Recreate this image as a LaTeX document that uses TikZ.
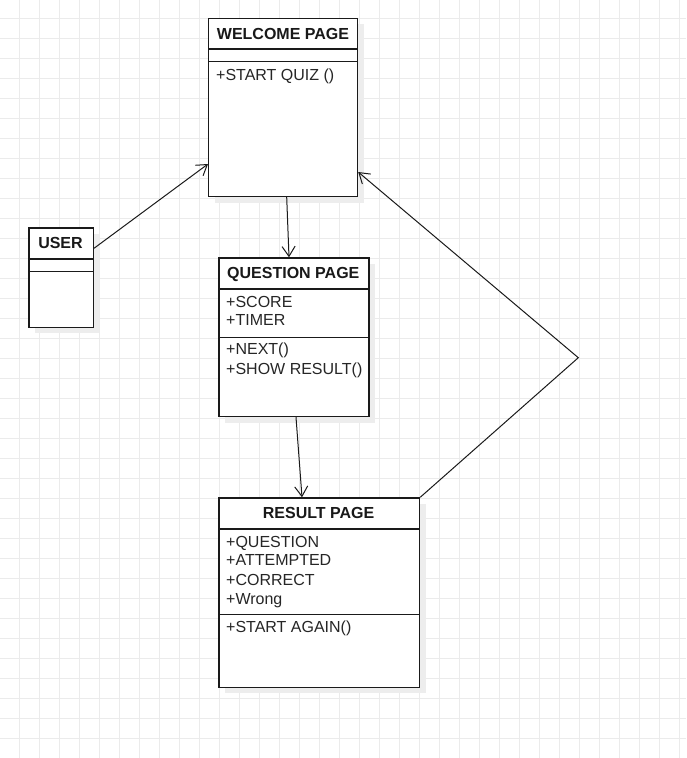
\documentclass[tikz,border=0pt]{standalone}
\usepackage{fontspec}
\setmainfont{Liberation Sans}
\usetikzlibrary{arrows.meta,calc,shadows}
\definecolor{gridc}{HTML}{EBEBEB}
\definecolor{linec}{HTML}{1A1A1A}
\definecolor{shadc}{HTML}{EDEDED}
\tikzset{
  umlbox/.style={draw=linec, line width=1.2pt, fill=white, rectangle, anchor=north west, inner sep=0pt,
    drop shadow={shadow xshift=6pt, shadow yshift=-6pt, fill=shadc, opacity=1}},
  sep/.style={draw=linec, line width=1.2pt},
  ttl/.style={font=\fontsize{16}{19}\selectfont\bfseries, anchor=base, inner sep=0pt, text=black!90},
  attr/.style={font=\fontsize{16}{19}\selectfont, anchor=base west, inner sep=0pt, text=black!85},
  arr/.style={draw=linec, line width=1pt, -{Straight Barb[length=10pt,width=13pt,line width=1pt]}},
  conn/.style={draw=linec, line width=1pt}
}
\begin{document}
\begin{tikzpicture}[x=1pt,y=-1pt]
\useasboundingbox (0,0) rectangle (686,758);
\fill[white] (0,0) rectangle (686,758);
% grid
\foreach \gx in {19,39,...,679} \draw[gridc, line width=0.7pt] (\gx,0) -- (\gx,758);
\foreach \gy in {18,38,...,738} \draw[gridc, line width=0.7pt] (0,\gy) -- (686,\gy);

% WELCOME PAGE
\node[umlbox, minimum width=149pt, minimum height=178.5pt] (welcome) at (208,17.5) {};
\draw[sep] ($(welcome.north west)+(0,31.5)$) -- ($(welcome.north east)+(0,31.5)$);
\draw[sep] ($(welcome.north west)+(0,44)$) -- ($(welcome.north east)+(0,44)$);
\node[ttl] (welcomet) at (283,39) {WELCOME PAGE};
\node[attr] (welcomem1) at (216,80) {+START QUIZ ()};

% USER
\node[umlbox, minimum width=64.5pt, minimum height=99.5pt] (user) at (28.3,227.3) {};
\draw[sep] ($(user.north west)+(0,31.7)$) -- ($(user.north east)+(0,31.7)$);
\draw[sep] ($(user.north west)+(0,44.4)$) -- ($(user.north east)+(0,44.4)$);
\node[ttl] (usert) at (60.5,248.7) {USER};

% QUESTION PAGE
\node[umlbox, minimum width=150pt, minimum height=158.7pt] (question) at (218.3,257.3) {};
\draw[sep] ($(question.north west)+(0,31.7)$) -- ($(question.north east)+(0,31.7)$);
\draw[sep] ($(question.north west)+(0,80)$) -- ($(question.north east)+(0,80)$);
\node[ttl] (questiont) at (293.3,278.7) {QUESTION PAGE};
\node[attr] (questiona1) at (226,307.4) {+SCORE};
\node[attr] (questiona2) at (226,325.7) {+TIMER};
\node[attr] (questionm1) at (226,354.7) {+NEXT()};
\node[attr] (questionm2) at (226,374) {+SHOW RESULT()};

% RESULT PAGE
\node[umlbox, minimum width=200.7pt, minimum height=189.4pt] (result) at (218.3,497.3) {};
\draw[sep] ($(result.north west)+(0,31.7)$) -- ($(result.north east)+(0,31.7)$);
\draw[sep] ($(result.north west)+(0,117)$) -- ($(result.north east)+(0,117)$);
\node[ttl] (resultt) at (318.6,518.7) {RESULT PAGE};
\node[attr] (resulta1) at (226,547.4) {+QUESTION};
\node[attr] (resulta2) at (226,565.7) {+ATTEMPTED};
\node[attr] (resulta3) at (226,585) {+CORRECT};
\node[attr] (resulta4) at (226,604) {+Wrong};
\node[attr] (resultm1) at (226,632.4) {+START AGAIN()};

% connectors
\draw[arr] ($(user.north east)+(0,21)$) -- ($(welcome.north west)+(0,146.5)$);
\draw[arr] ($(welcome.south west)+(78.7,0)$) -- ($(question.north west)+(70.7,0)$);
\draw[arr] ($(question.south west)+(77.7,0)$) -- ($(result.north west)+(83.7,0)$);
\coordinate (bend) at (578.3,357.7);
\draw[arr] (result.north east) -- (bend) -- ($(welcome.north east)+(0,154.5)$);
\end{tikzpicture}
\end{document}
